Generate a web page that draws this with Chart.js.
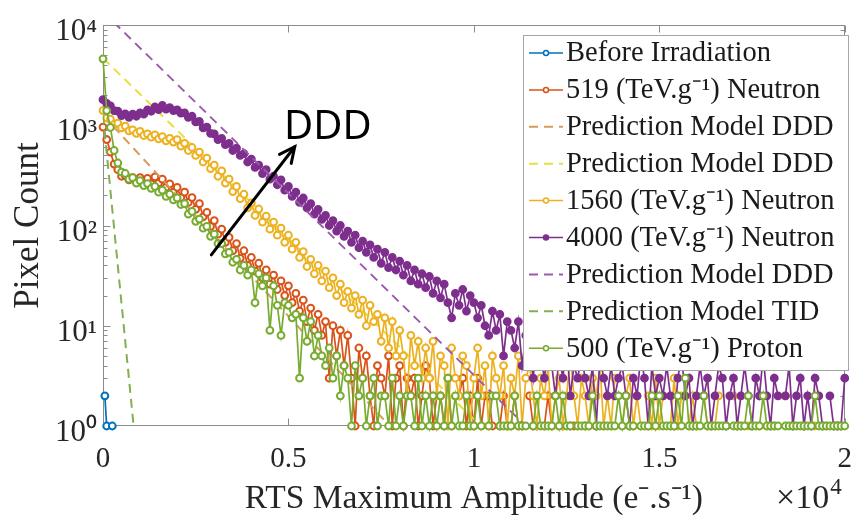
<!DOCTYPE html>
<html><head><meta charset="utf-8">
<script src="https://cdn.jsdelivr.net/npm/chart.js@4.4.1/dist/chart.umd.min.js"></script>
<style>html,body{margin:0;padding:0;background:#fff}</style>
</head><body>
<canvas id="c" width="868" height="522" style="width:868px;height:522px;display:block"></canvas>
<script>
// ---------- DATA ----------
// histogram bins (e-/s), spacing 100
const amplitudeBins = Array.from({length: 201}, (_, i) => i * 100);

const beforeX = [50, 100, 250];
const beforeY = [2, 1, 1];

const neutron519 = [
 960,720,540,410,360,310,315,285,300,275,
 300,265,295,260,305,265,290,240,260,215,
 240,190,215,170,190,145,165,122,135,98,
 112,82,92,68,76,56,66,47,56,40,
 48,35,42,30,36,26,32,23,28,20,
 25,17,21,14,18,11,15,9,13,8,
 11,3,10,5,9,4,8,3,1,6,
 3,5,2,1,4,3,2,5,1,3,
 4,1,3,2,3,1,2,4,3,1,
 2,2,1,3,1,null,2,3,1,2,
 1,3,1,2,2,1,null,1,2,1,
 1,2,1,1,null,2,1,1,null,1,
 2,1,null,1,1,null,1,1,null,null,
 1,null,null,1,null,null,null,null,null,null,
 null,null,null,null,null,null,null,null,null,null,
 null,null,null,null,null,null,null,null,null,null,
 null,null,null,null,null,null,null,null,null,null,
 null,null,null,null,null,null,null,null,null,null,
 null,null,null,null,null,null,null,null,null,null,
 null,null,null,null,null,null,null,null,null,null,
 null];

const neutron1560 = [
 1400,1180,1150,1020,1050,940,980,880,900,830,
 870,790,820,760,800,730,770,700,740,680,
 720,620,660,560,600,500,540,430,470,370,
 400,310,350,265,290,218,245,185,205,150,
 168,126,146,108,124,92,108,80,94,68,
 80,58,68,48,55,39,46,33,40,28,
 35,24,30,20,26,17,22,15,20,13,
 18,10,16,11,13,7,12,6,11,5,
 9,5,2,8,4,7,3,6,3,7,
 2,5,4,1,6,3,2,5,4,1,
 3,6,2,4,1,5,3,2,4,1,
 3,2,5,1,3,4,2,1,3,2,
 4,1,2,3,1,2,5,2,1,3,
 2,1,3,2,4,1,2,1,3,null,
 1,2,3,1,2,1,null,2,1,3,
 1,2,null,1,3,1,2,null,1,2,
 1,null,2,1,null,1,2,null,1,null,
 2,null,1,null,1,null,null,1,null,1,
 null,1,null,null,2,null,1,null,null,1,
 null,null,1,null,null,1,null,null,1,null,
 null];

const neutron4000 = [
 1800,1650,1560,1400,1380,1250,1300,1200,1290,1230,
 1330,1290,1420,1380,1520,1430,1580,1450,1500,1400,
 1420,1320,1330,1200,1230,1080,1090,940,960,830,
 820,720,740,640,660,560,590,500,520,430,
 460,380,400,330,360,290,310,255,285,225,
 245,195,215,170,188,150,165,130,145,115,
 126,100,112,88,100,78,88,68,80,60,
 70,54,64,48,58,42,54,38,48,36,
 44,32,40,28,36,26,33,24,31,21,
 28,19,26,17,12,21,16,23,14,20,
 17,12,16,10,8,14,9,13,5,11,
 9,6,11,4,8,6,3,8,5,3,
 6,4,2,5,3,7,2,4,3,5,
 3,2,4,1,5,3,2,4,2,3,
 4,2,1,3,2,5,3,1,4,2,
 3,2,4,2,1,3,5,2,3,1,
 2,4,2,3,1,2,4,3,1,2,
 3,1,2,4,2,1,3,2,5,2,
 1,3,2,null,2,4,1,2,3,1,
 2,1,3,2,1,null,2,1,1,1,
 3];

const proton500 = [
 4600,1400,950,560,420,340,330,290,300,265,
 280,250,262,235,245,215,225,195,205,180,
 188,162,165,130,138,110,116,94,98,78,
 82,66,66,52,54,43,46,36,40,32,
 36,17,33,25,30,9,25,16,8,17,
 16,12,13,3,12,7,11,5,8,5,
 4,6,3,5,2,4,3,1,4,2,
 3,1,2,3,1,2,2,1,3,1,
 2,1,2,2,1,3,1,2,1,2,
 1,2,1,3,1,2,1,1,2,1,
 1,2,1,null,1,2,2,1,1,1,
 1,2,1,1,1,null,1,2,1,1,
 1,1,2,1,2,1,1,null,1,1,
 1,1,2,1,1,1,1,1,1,2,
 1,2,1,1,null,1,1,1,2,1,
 2,1,1,1,1,2,1,3,1,1,
 1,1,2,1,1,1,1,1,1,null,
 1,1,1,1,2,1,1,1,2,1,
 1,1,1,null,1,1,1,1,1,1,
 1,1,2,1,1,1,1,1,1,1,
 1];

// prediction models (end points of straight lines on the log axis)
const predDDD519X = [0, 7730];     const predDDD519Y = [1260, 1];
const predDDD1560X = [0, 10190];   const predDDD1560Y = [4670, 1];
const predDDD4000X = [0, 11400];   const predDDD4000Y = [13600, 1];
const predTIDX = [0, 825];         const predTIDY = [1260, 1];

const xTickValues = [0, 5000, 10000, 15000, 20000];
const yTickValues = [1, 10, 100, 1000, 10000];

const seriesLabels = [
 'Before Irradiation',
 '519 (TeV.g\u207B\u00B9) Neutron',
 'Prediction Model DDD',
 'Prediction Model DDD',
 '1560 (TeV.g\u207B\u00B9) Neutron',
 '4000 (TeV.g\u207B\u00B9) Neutron',
 'Prediction Model DDD',
 'Prediction Model TID',
 '500 (TeV.g\u207B\u00B9) Proton'
];

// annotation (data coordinates)
const arrowFrom = {x: 2920, y: 51};
const arrowTo = {x: 5170, y: 610};
const noteAt = {x: 4880, y: 730};
const noteText = 'DDD';

// ---------- STYLE ----------
const SERIF = "'Liberation Serif','Times New Roman',serif";
const TXT = '#262626';
const C = {blue:'#0072BD', orange:'#D95319', yellow:'#EDB120', purple:'#7E2F8E', green:'#77AC30',
  orangeDash:'#D89B5C', yellowDash:'#EBDD3F', purpleDash:'#9B5AAB', greenDash:'#82B050'};

function markerSeries(label, data, color, filled, ord) {
  return {label, data, borderColor: color, backgroundColor: color, borderWidth: 1.7,
    pointRadius: 3.4, pointBorderWidth: 2, pointHoverRadius: 3.4,
    pointBackgroundColor: filled ? color : '#ffffff', pointBorderColor: color,
    spanGaps: false, clip: false, tension: 0, order: ord};
}
function predSeries(label, xs, ys, color, ord) {
  return {label, data: xs.map((x, i) => ({x, y: ys[i]})), borderColor: color, backgroundColor: color,
    borderWidth: 2, borderDash: [9, 6], pointRadius: 0, pointHoverRadius: 0, tension: 0, order: ord};
}

const datasets = [
  markerSeries(seriesLabels[0], beforeX.map((x, i) => ({x, y: beforeY[i]})), C.blue, false, 9),
  markerSeries(seriesLabels[1], neutron519, C.orange, false, 8),
  predSeries(seriesLabels[2], predDDD519X, predDDD519Y, C.orangeDash, 7),
  predSeries(seriesLabels[3], predDDD1560X, predDDD1560Y, C.yellowDash, 6),
  markerSeries(seriesLabels[4], neutron1560, C.yellow, false, 5),
  markerSeries(seriesLabels[5], neutron4000, C.purple, true, 4),
  predSeries(seriesLabels[6], predDDD4000X, predDDD4000Y, C.purpleDash, 3),
  predSeries(seriesLabels[7], predTIDX, predTIDY, C.greenDash, 2),
  markerSeries(seriesLabels[8], proton500, C.green, false, 1)
];

const SUP = ['\u2070','\u00B9','\u00B2','\u00B3','\u2074','\u2075','\u2076','\u2077','\u2078','\u2079'];

// frame + inward ticks (drawn under data, like MATLAB)
const framePlugin = {
  id: 'frame',
  beforeDatasetsDraw(chart) {
    const {ctx, chartArea: a, scales: {x, y}} = chart;
    ctx.save();
    ctx.strokeStyle = '#8c8c8c';
    ctx.lineWidth = 1;
    const L = Math.round(a.left) + 0.5, R = Math.round(a.right) - 0.5;
    const T = Math.round(a.top) + 0.5, B = Math.round(a.bottom) - 0.5;
    ctx.strokeRect(L, T, R - L, B - T);
    ctx.beginPath();
    xTickValues.forEach(v => {
      const px = Math.round(x.getPixelForValue(v)) + 0.5;
      ctx.moveTo(px, B); ctx.lineTo(px, B - 7);
      ctx.moveTo(px, T); ctx.lineTo(px, T + 7);
    });
    for (let d = 0; d <= 4; d++) {
      const base = Math.pow(10, d);
      const py0 = Math.round(y.getPixelForValue(base)) + 0.5;
      ctx.moveTo(L, py0); ctx.lineTo(L + 7, py0);
      ctx.moveTo(R, py0); ctx.lineTo(R - 7, py0);
      if (d < 4) for (let m = 2; m <= 9; m++) {
        const py = Math.round(y.getPixelForValue(m * base)) + 0.5;
        ctx.moveTo(L, py); ctx.lineTo(L + 4, py);
        ctx.moveTo(R, py); ctx.lineTo(R - 4, py);
      }
    }
    ctx.stroke();
    ctx.restore();
  }
};

// legend box inside the plot + annotation + exponent label
const overlayPlugin = {
  id: 'overlay',
  afterDatasetsDraw(chart) {
    const {ctx, scales: {x, y}} = chart;
    ctx.save();
    const bx = 523, by = 35, bw = 325, bh = 335;
    ctx.fillStyle = '#ffffff';
    ctx.fillRect(bx, by, bw, bh);
    ctx.strokeStyle = '#a6a6a6';
    ctx.lineWidth = 1;
    ctx.strokeRect(bx + 0.5, by + 0.5, bw, bh);
    chart.data.datasets.forEach((ds, i) => {
      const cy = 53 + i * 36.9;
      ctx.save();
      ctx.strokeStyle = ds.borderColor;
      ctx.lineWidth = ds.borderDash ? 2 : 1.5;
      ctx.setLineDash(ds.borderDash || []);
      ctx.beginPath(); ctx.moveTo(529, cy); ctx.lineTo(563, cy); ctx.stroke();
      ctx.setLineDash([]);
      if (ds.pointRadius > 0) {
        ctx.beginPath(); ctx.arc(546, cy, 2.5, 0, Math.PI * 2);
        ctx.fillStyle = ds.pointBackgroundColor; ctx.fill();
        ctx.lineWidth = 1.5; ctx.stroke();
      }
      ctx.restore();
      ctx.fillStyle = '#1a1a1a';
      ctx.font = '28.5px ' + SERIF;
      ctx.textBaseline = 'middle';
      ctx.textAlign = 'left';
      ctx.fillText(ds.label, 566, cy + 1);
    });
    // arrow
    const x0 = x.getPixelForValue(arrowFrom.x), y0 = y.getPixelForValue(arrowFrom.y);
    const x1 = x.getPixelForValue(arrowTo.x), y1 = y.getPixelForValue(arrowTo.y);
    ctx.strokeStyle = '#000'; ctx.lineWidth = 3; ctx.lineCap = 'round';
    ctx.beginPath(); ctx.moveTo(x0, y0); ctx.lineTo(x1, y1); ctx.stroke();
    const ang = Math.atan2(y1 - y0, x1 - x0), hl = 17, ha = 0.45;
    ctx.beginPath();
    ctx.moveTo(x1 - hl * Math.cos(ang - ha), y1 - hl * Math.sin(ang - ha));
    ctx.lineTo(x1, y1);
    ctx.lineTo(x1 - hl * Math.cos(ang + ha), y1 - hl * Math.sin(ang + ha));
    ctx.stroke();
    ctx.fillStyle = '#000';
    ctx.font = "40px 'Noto Sans','Open Sans',sans-serif";
    ctx.textBaseline = 'alphabetic'; ctx.textAlign = 'left';
    ctx.fillText(noteText, x.getPixelForValue(noteAt.x), y.getPixelForValue(noteAt.y));
    // x10^4 multiplier
    ctx.fillStyle = TXT;
    ctx.font = '34px ' + SERIF;
    const base = '\u00D710';
    const bxm = 776;
    ctx.fillText(base, bxm, 508);
    const wBase = ctx.measureText(base).width;
    ctx.font = '23px ' + SERIF;
    ctx.fillText('4', bxm + wBase + 1, 494);
    ctx.restore();
  }
};

new Chart(document.getElementById('c'), {
  type: 'line',
  data: {labels: amplitudeBins, datasets},
  options: {
    responsive: false, animation: false, devicePixelRatio: 1,
    layout: {padding: {top: 25, right: 11, left: 0, bottom: 0}},
    plugins: {legend: {display: false}, tooltip: {enabled: false}},
    elements: {line: {tension: 0}},
    scales: {
      x: {
        type: 'linear', min: 0, max: 20000,
        afterFit(s) { s.height = 96; },
        afterBuildTicks(s) { s.ticks = xTickValues.map(v => ({value: v})); },
        grid: {display: false, drawTicks: false}, border: {display: false},
        ticks: {padding: 16, color: TXT, font: {family: SERIF, size: 29}, maxRotation: 0, autoSkip: false,
          callback: v => String(v / 10000)},
        title: {display: true, text: 'RTS Maximum Amplitude (e\u207B.s\u207B\u00B9)', color: TXT,
          font: {family: SERIF, size: 33.5}, padding: {top: 0, bottom: 3}}
      },
      y: {
        type: 'logarithmic', min: 1, max: 10000,
        afterFit(s) { s.width = 103; },
        afterBuildTicks(s) { s.ticks = yTickValues.map(v => ({value: v})); },
        grid: {display: false, drawTicks: false}, border: {display: false},
        ticks: {padding: 6, labelOffset: 7, color: TXT, font: {family: SERIF, size: 31}, autoSkip: false,
          callback: v => '10' + SUP[Math.round(Math.log10(v))]},
        title: {display: true, text: 'Pixel Count', color: TXT,
          font: {family: SERIF, size: 35}, padding: {top: 8, bottom: 0}}
      }
    }
  },
  plugins: [framePlugin, overlayPlugin]
});
</script>
</body></html>
